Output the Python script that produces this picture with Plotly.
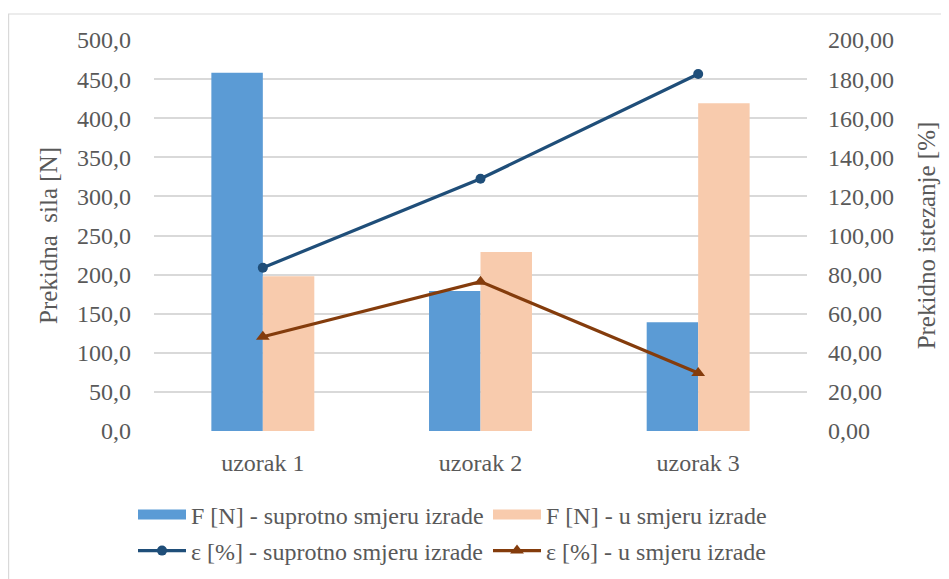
import plotly.graph_objects as go

categories = ["uzorak 1", "uzorak 2", "uzorak 3"]
force_against = [458.0, 179.0, 139.0]
force_along = [198.0, 229.0, 419.0]
strain_against = [83.5, 129.0, 182.6]
strain_along = [48.2, 76.4, 29.7]

name_fa = "F [N] - suprotno smjeru izrade"
name_fu = "F [N] - u smjeru izrade"
name_sa = "ε [%] - suprotno smjeru izrade"
name_su = "ε [%] - u smjeru izrade"

c_blue = "#5b9bd5"
c_peach = "#f8cbad"
c_dblue = "#1f4e79"
c_brown = "#843c0c"
grid = "#d9d9d9"
txt = "#595959"
FONT = "Times New Roman, Liberation Serif, Tinos, DejaVu Serif, serif"
FS = 24
FT = 25

OFF = 8  # page body margin
W, H = 949, 579
L, R, T, B = 154 - OFF, 949 - 807 + OFF, 40 - OFF, 579 - 431 + OFF
pw, ph = W - L - R, H - T - B

def px_x(x):
    return (x - OFF - L) / pw

def px_y(y):
    return (H - B - (y - OFF)) / ph

fig = go.Figure()
fig.add_trace(go.Bar(x=categories, y=force_against, marker_color=c_blue,
                     marker_line_width=0, showlegend=False, name=name_fa))
fig.add_trace(go.Bar(x=categories, y=force_along, marker_color=c_peach,
                     marker_line_width=0, showlegend=False, name=name_fu))
fig.add_trace(go.Scatter(x=categories, y=strain_against, yaxis="y2", mode="lines+markers",
                         line=dict(color=c_dblue, width=3.2), marker=dict(symbol="circle", size=10),
                         showlegend=False, name=name_sa))
fig.add_trace(go.Scatter(x=categories, y=strain_along, yaxis="y2", mode="lines+markers",
                         line=dict(color=c_brown, width=3.2), marker=dict(symbol="triangle-up", size=12),
                         showlegend=False, name=name_su))

# legend entries
fig.add_trace(go.Scatter(x=[None], y=[None], mode="lines", line=dict(color=c_blue, width=10),
                         name=name_fa, legend="legend"))
fig.add_trace(go.Scatter(x=[None], y=[None], mode="lines", line=dict(color=c_peach, width=10),
                         name=name_fu, legend="legend"))
fig.add_trace(go.Scatter(x=[None], y=[None], mode="lines+markers", line=dict(color=c_dblue, width=3.2),
                         marker=dict(symbol="circle", size=10), name=name_sa, legend="legend2"))
fig.add_trace(go.Scatter(x=[None], y=[None], mode="lines+markers", line=dict(color=c_brown, width=3.2),
                         marker=dict(symbol="triangle-up", size=12), name=name_su, legend="legend2"))

leg_common = dict(orientation="h", xanchor="left", yanchor="middle", itemwidth=48,
                  entrywidth=292, font=dict(family=FONT, size=FS, color=txt),
                  bgcolor="rgba(0,0,0,0)", itemclick=False, itemdoubleclick=False)

fig.update_layout(
    width=W, height=H,
    margin=dict(l=L, r=R, t=T, b=B, autoexpand=False),
    paper_bgcolor="white", plot_bgcolor="white",
    font=dict(family=FONT, size=FS, color=txt),
    barmode="group", bargap=0.527, bargroupgap=0,
    xaxis=dict(showgrid=False, showline=False, zeroline=False, ticks="",
               tickfont=dict(family=FONT, size=FS, color=txt), ticklabelstandoff=15),
    yaxis=dict(range=[0, 500], dtick=50, tickformat=".1f", showgrid=True, gridcolor=grid,
               gridwidth=1.5, zeroline=False, showline=False, ticks="",
               tickfont=dict(family=FONT, size=FS, color=txt), ticklabelstandoff=22,
               title=dict(text="Prekidna  sila [N]", font=dict(family=FONT, size=FT, color=txt),
                          standoff=12)),
    yaxis2=dict(range=[0, 200], dtick=20, tickformat=".2f", overlaying="y", side="right",
                showgrid=False, zeroline=False, showline=False, ticks="",
                tickfont=dict(family=FONT, size=FS, color=txt), ticklabelstandoff=20,
                title=dict(text="Prekidno istezanje [%]", font=dict(family=FONT, size=FT, color=txt),
                           standoff=24)),
    separators=",.",
    legend=dict(x=px_x(133), y=px_y(515), **leg_common),
    legend2=dict(x=px_x(133), y=px_y(551), **leg_common),
    shapes=[dict(type="rect", xref="paper", yref="paper",
                 x0=px_x(8.6), x1=px_x(960), y0=px_y(600), y1=px_y(14),
                 line=dict(color=grid, width=1.2), fillcolor="rgba(0,0,0,0)", layer="below")],
)

fig.write_html("out.html")
